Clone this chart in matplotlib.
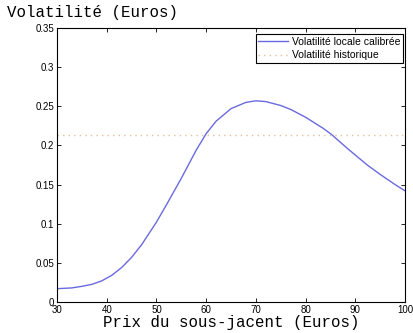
import numpy as np
import matplotlib.pyplot as plt

# prix du sous-jacent et volatilite locale calibree
prix = [30, 33, 35, 37, 39, 41, 43, 45, 47, 50, 52, 55, 58, 60, 62, 65, 68,
        70, 72, 75, 77, 80, 83.5, 85.3, 87, 89, 92.4, 95, 98, 100]
vol_locale = [0.017, 0.018, 0.020, 0.0225, 0.027, 0.034, 0.044, 0.057, 0.073,
              0.102, 0.124, 0.158, 0.194, 0.215, 0.231, 0.247, 0.255, 0.257,
              0.256, 0.251, 0.246, 0.236, 0.222, 0.2136, 0.204, 0.193, 0.175,
              0.163, 0.150, 0.142]
vol_historique = 0.2136

xticks = [30, 40, 50, 60, 70, 80, 90, 100]
yticks = [0, 0.05, 0.1, 0.15, 0.2, 0.25, 0.3, 0.35]
yticklabels = ['0', '0.05', '0.1', '0.15', '0.2', '0.25', '0.3', '0.35']

fig = plt.figure(figsize=(4.14, 3.33), dpi=100)
ax = fig.add_axes([0.1377, 0.0931, 0.8406, 0.8228])

ax.plot(prix, vol_locale, color='#6a6ae0', lw=1.0, label='Volatilité locale calibrée')
ax.plot([prix[0], prix[-1]], [vol_historique, vol_historique], color='#e6c09a',
        lw=1.0, ls=(0, (1, 3)), label='Volatilité historique')

ax.set_xlim(30, 100)
ax.set_ylim(0, 0.35)
ax.set_xticks(xticks)
ax.set_yticks(yticks)
ax.set_yticklabels(yticklabels)
ax.tick_params(direction='in', top=True, right=True, length=3, width=0.6,
               labelsize=7, pad=2)
for lab in ax.get_xticklabels() + ax.get_yticklabels():
    lab.set_family('Liberation Sans')
for s in ax.spines.values():
    s.set_linewidth(0.8)

ax.set_xlabel('Prix du sous-jacent (Euros)', family='Liberation Mono',
              fontsize=11.3, labelpad=0)
fig.text(0.018, 0.985, 'Volatilité (Euros)', family='Liberation Mono',
         fontsize=11.3, va='top', ha='left')

leg = ax.legend(loc='upper right', bbox_to_anchor=(0.994, 0.978), borderaxespad=0,
                prop={'family': 'Liberation Sans', 'size': 7.5},
                fancybox=False, framealpha=1, edgecolor='black',
                handlelength=2.8, handletextpad=0.4, borderpad=0.25,
                labelspacing=0.35)
leg.get_frame().set_linewidth(0.8)

plt.savefig('out.png', dpi=100)
